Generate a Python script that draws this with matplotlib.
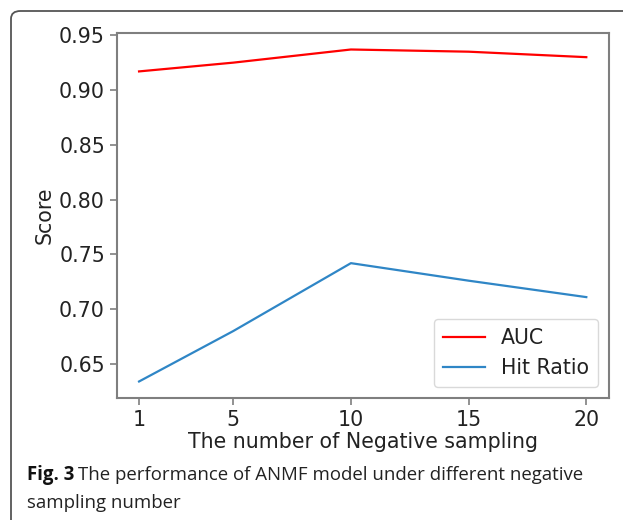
import matplotlib.pyplot as plt
from matplotlib.patches import FancyBboxPatch

neg_sampling = [1, 5, 10, 15, 20]
auc = [0.917, 0.925, 0.937, 0.935, 0.930]
hit_ratio = [0.634, 0.680, 0.742, 0.726, 0.711]

fig = plt.figure(figsize=(6.23, 5.2), dpi=100)
ax = fig.add_axes([0.1873, 0.2352, 0.7897, 0.7008])

ax.plot(neg_sampling, auc, color='red', linewidth=1.6, label='AUC')
ax.plot(neg_sampling, hit_ratio, color='#2f86c6', linewidth=1.6, label='Hit Ratio')

ax.set_xticks(neg_sampling)
ax.set_yticks([0.65, 0.70, 0.75, 0.80, 0.85, 0.90, 0.95])
ax.set_xlim(0.05, 20.95)
ax.set_ylim(0.6192, 0.9518)
ax.tick_params(labelsize=14.8, colors='#7f7f7f', labelcolor='#222222', length=5, width=1.2)
for s in ax.spines.values():
    s.set_color('#7f7f7f')
    s.set_linewidth(1.5)

ax.set_xlabel('The number of Negative sampling', fontsize=14.8, color='#222222', labelpad=2)
ax.set_ylabel('Score', fontsize=14.8, color='#222222', labelpad=3)
ax.legend(loc='lower right', fontsize=14.8, handlelength=2.0, borderpad=0.45,
          labelcolor='#222222', edgecolor='#d0d0d0')

# outer rounded frame of the figure panel
frame = FancyBboxPatch((11 / 623, -0.2), 1.2, 1.2 - 11 / 520,
                       boxstyle='round,pad=0,rounding_size=0.015',
                       transform=fig.transFigure, fill=False,
                       edgecolor='#555555', linewidth=1.3)
fig.patches.append(frame)

# caption
cap_font = ['Open Sans', 'DejaVu Sans']
t = fig.text(27 / 623, 1 - 475 / 520, 'Fig. 3', fontsize=13.4, fontweight='bold',
             family=cap_font, va='center', ha='left', color='#111111')
fig.canvas.draw()
bb = t.get_window_extent()
fig.text(bb.x1 / 623 + 0.006, 1 - 475 / 520,
         'The performance of ANMF model under different negative',
         fontsize=13.4, family=cap_font, va='center', ha='left', color='#222222')
fig.text(27 / 623, 1 - 503 / 520, 'sampling number', fontsize=13.4,
         family=cap_font, va='center', ha='left', color='#222222')

fig.savefig('out.png', dpi=100)
